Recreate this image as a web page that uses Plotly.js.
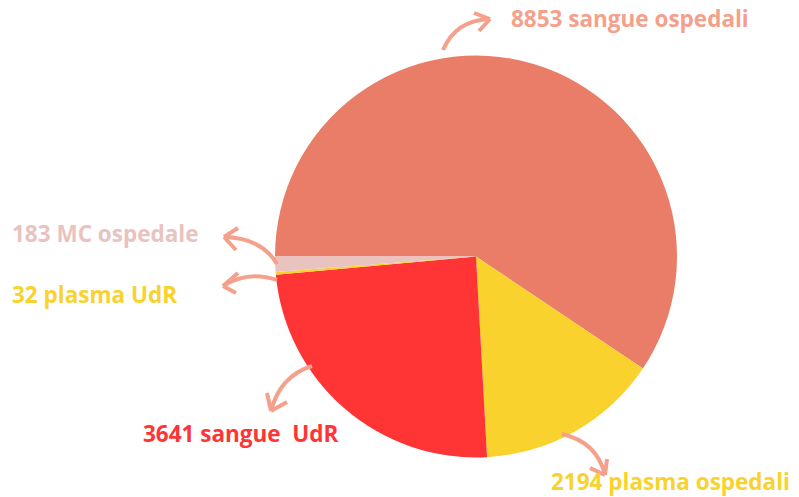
<!DOCTYPE html>
<html>
<head>
<meta charset="utf-8">
<script src="https://cdn.plot.ly/plotly-3.0.1.min.js"></script>
<style>html,body{margin:0;padding:0;background:#fff;}#chart{width:799px;height:497px;}</style>
</head>
<body>
<div id="chart"></div>
<script>
const categories = ["sangue ospedali", "plasma ospedali", "sangue  UdR", "plasma UdR", "MC ospedale"];
const values = [8853, 2194, 3641, 32, 183];
const labelTexts = ["8853 sangue ospedali", "2194 plasma ospedali", "3641 sangue  UdR", "32 plasma UdR", "183 MC ospedale"];
const sliceColors = ["#E97D67", "#F9D22D", "#FF3434", "#F9D22D", "#E8C3BF"];
const labelColors = ["#F5A08B", "#F9D22D", "#FF3434", "#F9D22D", "#E8C3BF"];

const W = 799, H = 497;
const px = x => x / W;
const py = y => 1 - y / H;

// label placement (pixel positions, left-anchored)
const labelPos = [[509, 18], [549, 481], [141, 433], [10, 294], [10, 233]];

const annotations = labelTexts.map((t, i) => ({
  text: "<b>" + t + "</b>",
  x: px(labelPos[i][0]), y: py(labelPos[i][1]),
  xref: "paper", yref: "paper", xanchor: "left", yanchor: "middle",
  showarrow: false,
  font: {family: "'Open Sans', sans-serif", size: 22.5, color: labelColors[i]}
}));

const arrowColor = "#F5A08B";
const arrowPaths = [
  "M443,50 Q456,20 490,19",
  "M490,19 L474,13 M490,19 L479,31",
  "M277,264 Q262,238 224,237",
  "M224,237 L238,228 M224,237 L236,250",
  "M277,280 Q248,270 223,286",
  "M223,286 L238,273 M223,286 L236,293",
  "M312,366 Q280,376 271,411",
  "M271,411 L267,393 M271,411 L287,402",
  "M562,434 Q597,442 605,475",
  "M605,475 L590,468 M605,475 L607,459"
];
const shapes = arrowPaths.map(p => ({
  type: "path", xref: "paper", yref: "paper",
  path: p.replace(/([ML]|Q)?(\d+(?:\.\d+)?),(\d+(?:\.\d+)?)/g, (m, c, a, b) => (c || "") + px(+a).toFixed(5) + "," + py(+b).toFixed(5)),
  line: {color: arrowColor, width: 4}
}));

const cx = 476, cy = 256.5, r = 201;
const trace = {
  type: "pie",
  labels: categories,
  values: values,
  sort: false,
  direction: "clockwise",
  rotation: 270,
  marker: {colors: sliceColors, line: {width: 0}},
  textinfo: "none",
  hoverinfo: "none",
  showlegend: false,
  domain: {x: [px(cx - r), px(cx + r)], y: [py(cy + r), py(cy - r)]}
};

Plotly.newPlot("chart", [trace], {
  width: W, height: H,
  margin: {l: 0, r: 0, t: 0, b: 0},
  paper_bgcolor: "#ffffff",
  showlegend: false,
  annotations: annotations,
  shapes: shapes
}, {displayModeBar: false, staticPlot: true});
</script>
</body>
</html>
